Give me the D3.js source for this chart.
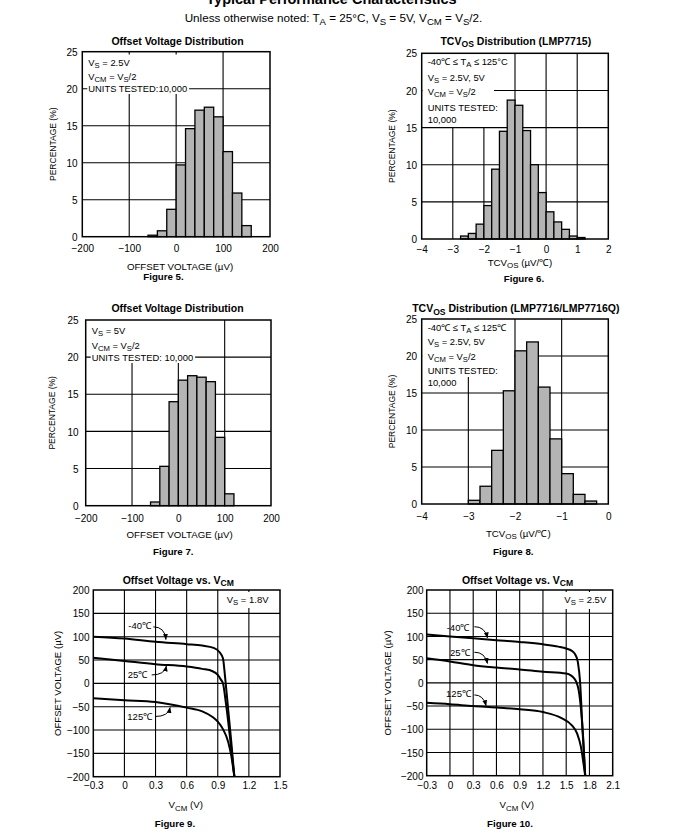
<!DOCTYPE html>
<html><head><meta charset="utf-8">
<script src="https://cdn.jsdelivr.net/npm/d3@7"></script>
<style>body{margin:0;background:#fff}svg{display:block;font-family:"Liberation Sans",Arial,sans-serif}</style>
</head><body>
<svg id="c" width="699" height="840"></svg>
<script>
// ---------- DATA ----------
const fig5BinStart = [-60,-40,-20,0,20,40,60,80,100,120,140];
const fig5Pct      = [0.2,0.8,3.7,9.7,14.6,17.1,17.5,16.2,11.5,5.9,1.5];
const fig5XTicks   = [-200,-100,0,100,200];

const fig6BinStart = [-2.75,-2.5,-2.25,-2,-1.75,-1.5,-1.25,-1,-0.75,-0.5,-0.25,0,0.25,0.5,0.75,1.0];
const fig6Pct      = [0.4,0.75,2.0,4.5,9.4,14.5,18.7,18.0,14.6,10.0,6.25,3.66,2.3,1.3,0.4,0.2];
const fig6XTicks   = [-4,-3,-2,-1,0,1,2];

const fig7BinStart = [-60,-40,-20,0,20,40,60,80,100];
const fig7Pct      = [0.5,5.3,14.0,16.9,17.5,17.3,16.7,9.2,1.6];
const fig7XTicks   = [-200,-100,0,100,200];

const fig8BinStart = [-3,-2.75,-2.5,-2.25,-2,-1.75,-1.5,-1.25,-1,-0.75,-0.5];
const fig8Pct      = [0.5,2.4,7.25,15.3,20.7,21.9,15.8,8.8,4.1,1.3,0.4];
const fig8XTicks   = [-4,-3,-2,-1,0];

const pctTicks = [0,5,10,15,20,25];

const fig9Vcm_m40 = [-0.3,0,0.3,0.6,0.75,0.86,0.92,0.95,0.97,1.0,1.03,1.06];
const fig9Vos_m40 = [100,96,89,84,81,76,66,54,15,-55,-125,-200];
const fig9Vcm_25  = [-0.3,0,0.3,0.6,0.75,0.85,0.9,0.93,0.95,0.98,1.01,1.04,1.06];
const fig9Vos_25  = [55,48,41,36,31,26,18,8,0,-45,-100,-160,-200];
const fig9Vcm_125 = [-0.3,0,0.3,0.6,0.75,0.85,0.9,0.95,1.0,1.03,1.06];
const fig9Vos_125 = [-32,-36,-40,-52,-60,-72,-82,-98,-125,-155,-200];
const fig9XTicks  = [-0.3,0,0.3,0.6,0.9,1.2,1.5];

const fig10Vcm_m40 = [-0.3,0,0.3,0.6,0.9,1.2,1.4,1.5,1.58,1.62,1.65,1.68,1.71,1.745];
const fig10Vos_m40 = [104,100,96,92,88,83,78,74,68,60,45,0,-100,-200];
const fig10Vcm_25  = [-0.3,0,0.3,0.6,0.9,1.2,1.5,1.56,1.6,1.63,1.66,1.69,1.72,1.745];
const fig10Vos_25  = [53,46,38,33,29,24,20,16,10,2,-15,-55,-120,-200];
const fig10Vcm_125 = [-0.3,0,0.3,0.6,0.9,1.2,1.44,1.57,1.64,1.69,1.72,1.745];
const fig10Vos_125 = [-43,-46,-50,-53,-57,-63,-76,-91,-109,-138,-170,-200];
const fig10XTicks  = [-0.3,0,0.3,0.6,0.9,1.2,1.5,1.8,2.1];

const vosTicks = [-200,-150,-100,-50,0,50,100,150,200];

// ---------- HELPERS ----------
const svg = d3.select("#c");
svg.append("rect").attr("width",699).attr("height",840).attr("fill","#fff");
const defs = svg.append("defs");
defs.append("marker").attr("id","ah").attr("viewBox","0 0 10 10").attr("refX",9).attr("refY",5)
  .attr("markerWidth",6).attr("markerHeight",6).attr("markerUnits","userSpaceOnUse").attr("orient","auto")
  .append("path").attr("d","M0,1 L10,5 L0,9 Z").attr("fill","#000");

// rich text: "_{..}" marks a subscript
function rich(parent, x, y, str, size, opts={}) {
  const t = parent.append("text").attr("x",x).attr("y",y).attr("font-size",size)
    .attr("text-anchor",opts.anchor||"start").attr("font-weight",opts.bold?"bold":"normal").attr("fill","#000");
  if (opts.transform) t.attr("transform",opts.transform);
  const parts = str.split(/(_\{[^}]*\})/).filter(s=>s.length);
  let shifted = 0;
  parts.forEach(p=>{
    if (p.startsWith("_{")) {
      const sh = size*0.26;
      t.append("tspan").attr("font-size",size*0.82).attr("dy",sh-shifted).text(p.slice(2,-1));
      shifted = sh;
    } else {
      const ts = t.append("tspan").text(p);
      if (shifted) { ts.attr("dy",-shifted); shifted = 0; }
    }
  });
  return t;
}

function frameAndGrid(g, x, y, xTicks, yTicks) {
  const [x0,x1] = x.range(), [y0,y1] = y.range();
  const grid = g.append("g").attr("stroke","#000").attr("stroke-width",1.1);
  xTicks.slice(1,-1).forEach(v=>grid.append("line").attr("x1",x(v)).attr("x2",x(v)).attr("y1",y0).attr("y2",y1));
  yTicks.slice(1,-1).forEach(v=>grid.append("line").attr("x1",x0).attr("x2",x1).attr("y1",y(v)).attr("y2",y(v)));
}
function frame(g, x, y) {
  const [x0,x1] = x.range(), [y0,y1] = y.range();
  g.append("rect").attr("x",x0).attr("y",y1).attr("width",x1-x0).attr("height",y0-y1)
    .attr("fill","none").attr("stroke","#000").attr("stroke-width",1.5);
}
function axes(g, x, y, xTicks, yTicks, xFmt, tickBase, yRight) {
  const xa = d3.axisBottom(x).tickValues(xTicks).tickSize(0).tickPadding(0).tickFormat(xFmt);
  const gx = g.append("g").attr("transform",`translate(0,${tickBase})`).call(xa);
  gx.select(".domain").remove();
  gx.selectAll("text").attr("dy",0).attr("y",0).attr("font-size",10).attr("font-family","Liberation Sans, Arial, sans-serif").attr("fill","#000");
  const ya = d3.axisLeft(y).tickValues(yTicks).tickSize(0).tickPadding(0);
  const gy = g.append("g").attr("transform",`translate(${yRight},0)`).call(ya);
  gy.select(".domain").remove();
  gy.selectAll("text").attr("dy","0.36em").attr("x",0).attr("font-size",10).attr("font-family","Liberation Sans, Arial, sans-serif").attr("fill","#000");
}
// notes with white background
function notes(g, lines, x0text, plotLeft, size) {
  const masks = g.append("g"), texts = g.append("g");
  lines.forEach(ln=>{
    const t = rich(texts, x0text, ln.y, ln.s, size);
    const bb = t.node().getBBox();
    const left = ln.fromText ? bb.x-1 : plotLeft+1;
    const top = ln.top!==undefined ? ln.top : bb.y;
    const bottom = ln.bottom!==undefined ? ln.bottom : bb.y+bb.height;
    masks.append("rect").attr("x",left).attr("y",top).attr("width",bb.x+bb.width+2-left)
      .attr("height",bottom-top).attr("fill","#fff");
  });
}
function bars(g, x, y, starts, vals, w) {
  g.append("g").selectAll("rect").data(starts.map((s,i)=>({s,v:vals[i]}))).join("rect")
    .attr("x",d=>x(d.s)).attr("width",d=>x(d.s+w)-x(d.s))
    .attr("y",d=>y(d.v)).attr("height",d=>y(0)-y(d.v))
    .attr("fill","#b4b4b4").attr("stroke","#000").attr("stroke-width",1.3);
}
function curve(g, x, y, xs, ys) {
  const line = d3.line().x(d=>x(d[0])).y(d=>y(d[1])).curve(d3.curveMonotoneX);
  g.append("path").attr("d",line(xs.map((v,i)=>[v,ys[i]]))).attr("fill","none").attr("stroke","#000").attr("stroke-width",2);
}
function arrow(g, x, y, a, c, b) {
  g.append("path").attr("d",`M${x(a[0])},${y(a[1])} Q${x(c[0])},${y(c[1])} ${x(b[0])},${y(b[1])}`)
    .attr("fill","none").attr("stroke","#000").attr("stroke-width",1).attr("marker-end","url(#ah)");
}

// ---------- HEADER ----------
svg.append("text").attr("x",331.5).attr("y",3.5).attr("text-anchor","middle").attr("font-weight","bold")
  .attr("font-size",14.5).text("Typical Performance Characteristics");
rich(svg, 333.5, 22, "Unless otherwise noted: T_{A} = 25°C, V_{S} = 5V, V_{CM} = V_{S}/2.", 11.7, {anchor:"middle"});

// ---------- HISTOGRAMS ----------
function hist(cfg) {
  const g = svg.append("g");
  const x = d3.scaleLinear(cfg.xDomain, [cfg.L, cfg.R]);
  const y = d3.scaleLinear([0,25], [cfg.B, cfg.T]);
  frameAndGrid(g, x, y, cfg.xTicks, pctTicks);
  if (cfg.block) g.append("rect").attr("x",cfg.L+1).attr("y",cfg.block[1]).attr("width",cfg.block[0]-cfg.L-1)
      .attr("height",cfg.block[2]-cfg.block[1]).attr("fill","#fff");
  notes(g, cfg.notes, cfg.L+6, cfg.L, 9.4);
  bars(g, x, y, cfg.starts, cfg.vals, cfg.w);
  frame(g, x, y);
  axes(g, x, y, cfg.xTicks, pctTicks, d3.format("d"), cfg.tickBase, cfg.yRight);
  rich(g, cfg.titleX, cfg.titleY, cfg.title, 10.5, {anchor:"middle", bold:true});
  rich(g, cfg.xlX, cfg.xlY, cfg.xLabel, 9.7, {anchor:"middle"});
  rich(g, cfg.figX, cfg.figY, cfg.fig, 9.7, {anchor:"middle", bold:true});
  const cy = (cfg.T+cfg.B)/2;
  rich(g, 0, 0, "PERCENTAGE (%)", 8.5, {anchor:"middle", transform:`translate(${cfg.ylX},${cy}) rotate(-90)`});
}

hist({xDomain:[-200,200], L:82.3, R:270, T:51.7, B:236.7, xTicks:fig5XTicks,
  starts:fig5BinStart, vals:fig5Pct, w:20, block:[196,54.5,86],
  notes:[{s:"V_{S} = 2.5V", y:65.5, top:57, bottom:85},
         {s:"V_{CM} = V_{S}/2", y:79.5, top:57, bottom:85},
         {s:"UNITS TESTED:10,000", y:92, fromText:true}],
  tickBase:252, yRight:77.5, title:"Offset Voltage Distribution", titleX:177.5, titleY:44.5,
  xLabel:"OFFSET VOLTAGE (µV)", xlX:180, xlY:270, fig:"Figure 5.", figX:163.5, figY:280, ylX:56});

hist({xDomain:[-4,2], L:421.7, R:608.3, T:53.3, B:239, xTicks:fig6XTicks,
  starts:fig6BinStart, vals:fig6Pct, w:0.25, block:[494,54,127],
  notes:[{s:"-40℃  ≤ T_{A} ≤ 125°C", y:65, top:54, bottom:70},
         {s:"V_{S} = 2.5V, 5V", y:81, top:70, bottom:85},
         {s:"V_{CM} = V_{S}/2", y:95, top:85, bottom:100},
         {s:"UNITS TESTED:", y:111, top:100, bottom:114},
         {s:"10,000", y:123, top:114, bottom:127}],
  tickBase:252.5, yRight:417, title:"TCV_{OS} Distribution (LMP7715)", titleX:515.8, titleY:44.5,
  xLabel:"TCV_{OS} (µV/℃)", xlX:520, xlY:265.5, fig:"Figure 6.", figX:524, figY:281.5, ylX:394.5});

hist({xDomain:[-200,200], L:85.7, R:271, T:320, B:505.7, xTicks:fig7XTicks,
  starts:fig7BinStart, vals:fig7Pct, w:20, block:[200,320,353],
  notes:[{s:"V_{S} = 5V", y:333.5, top:321, bottom:353},
         {s:"V_{CM} = V_{S}/2", y:348.5, top:321, bottom:353},
         {s:"UNITS TESTED: 10,000", y:361, fromText:true}],
  tickBase:522, yRight:78.5, title:"Offset Voltage Distribution", titleX:177.5, titleY:311.5,
  xLabel:"OFFSET VOLTAGE (µV)", xlX:179.7, xlY:538, fig:"Figure 7.", figX:173.3, figY:554.5, ylX:54.5});

hist({xDomain:[-4,0], L:421.7, R:608.3, T:319, B:504, xTicks:fig8XTicks,
  starts:fig8BinStart, vals:fig8Pct, w:0.25, block:[514,319.5,358],
  notes:[{s:"-40℃  ≤ T_{A} ≤ 125℃", y:331, top:320, bottom:358},
         {s:"V_{S} = 2.5V, 5V", y:345, top:320, bottom:358},
         {s:"V_{CM} = V_{S}/2", y:360, top:320, bottom:362},
         {s:"UNITS TESTED:", y:374, top:362, bottom:377},
         {s:"10,000", y:386, top:377, bottom:391}],
  tickBase:519.5, yRight:417, title:"TCV_{OS} Distribution (LMP7716/LMP7716Q)", titleX:515.8, titleY:312,
  xLabel:"TCV_{OS} (µV/℃)", xlX:518.3, xlY:536.5, fig:"Figure 8.", figX:513.3, figY:555, ylX:394.5});

// ---------- CURVE PANELS ----------
function vcm(cfg) {
  const g = svg.append("g");
  const x = d3.scaleLinear(cfg.xDomain, [cfg.L, cfg.R]);
  const y = d3.scaleLinear([-200,200], [cfg.B, cfg.T]);
  frameAndGrid(g, x, y, cfg.xTicks, vosTicks);
  g.append("rect").attr("x",cfg.box[0]).attr("y",cfg.box[1]).attr("width",cfg.R-1-cfg.box[0])
    .attr("height",cfg.box[2]-cfg.box[1]).attr("fill","#fff");
  rich(g, cfg.box[3], cfg.box[4], cfg.vsText, 9.5);
  cfg.curves.forEach(c=>curve(g, x, y, c[0], c[1]));
  cfg.labels.forEach(l=>{
    rich(g, x(l.at[0]), y(l.at[1]), l.s, 9.5);
    arrow(g, x, y, l.a, l.c, l.b);
  });
  frame(g, x, y);
  axes(g, x, y, cfg.xTicks, vosTicks, d3.format(""), cfg.tickBase, cfg.yRight);
  rich(g, cfg.titleX, cfg.titleY, "Offset Voltage vs. V_{CM}", 10.5, {anchor:"middle", bold:true});
  rich(g, cfg.xlX, cfg.xlY, "V_{CM} (V)", 9.7, {anchor:"middle"});
  rich(g, cfg.figX, cfg.figY, cfg.fig, 9.7, {anchor:"middle", bold:true});
  rich(g, 0, 0, "OFFSET VOLTAGE (µV)", 9.6, {anchor:"middle", transform:`translate(${cfg.ylX},${(cfg.T+cfg.B)/2}) rotate(-90)`});
}

vcm({xDomain:[-0.3,1.5], L:93.3, R:280, T:590, B:776.7, xTicks:fig9XTicks,
  box:[220,592,608,226.7,602.5], vsText:"V_{S} = 1.8V",
  curves:[[fig9Vcm_m40,fig9Vos_m40],[fig9Vcm_25,fig9Vos_25],[fig9Vcm_125,fig9Vos_125]],
  labels:[{s:"-40℃", at:[0.038,116], a:[0.279,121], c:[0.39,121], b:[0.40,94]},
          {s:"25℃", at:[0.031,12], a:[0.263,18], c:[0.386,18], b:[0.405,37]},
          {s:"125℃", at:[0.028,-79], a:[0.295,-71], c:[0.424,-71], b:[0.44,-52]}],
  tickBase:789, yRight:89.5, titleX:178.3, titleY:583.5, xlX:185.8, xlY:808,
  fig:"Figure 9.", figX:175, figY:827, ylX:61});

vcm({xDomain:[-0.3,2.1], L:426.7, R:612.7, T:590, B:775.7, xTicks:fig10XTicks,
  box:[557,592,609,564.3,602.7], vsText:"V_{S} = 2.5V",
  curves:[[fig10Vcm_m40,fig10Vos_m40],[fig10Vcm_25,fig10Vos_25],[fig10Vcm_125,fig10Vos_125]],
  labels:[{s:"-40℃", at:[-0.042,112], a:[0.315,121], c:[0.453,121], b:[0.483,97]},
          {s:"25℃", at:[0.001,58.5], a:[0.315,66], c:[0.453,66], b:[0.483,42]},
          {s:"125℃", at:[-0.05,-31], a:[0.315,-26], c:[0.431,-26], b:[0.466,-49]}],
  tickBase:788.5, yRight:423.5, titleX:517.5, titleY:583.5, xlX:516.7, xlY:808,
  fig:"Figure 10.", figX:510, figY:827, ylX:391});
</script>
</body></html>
